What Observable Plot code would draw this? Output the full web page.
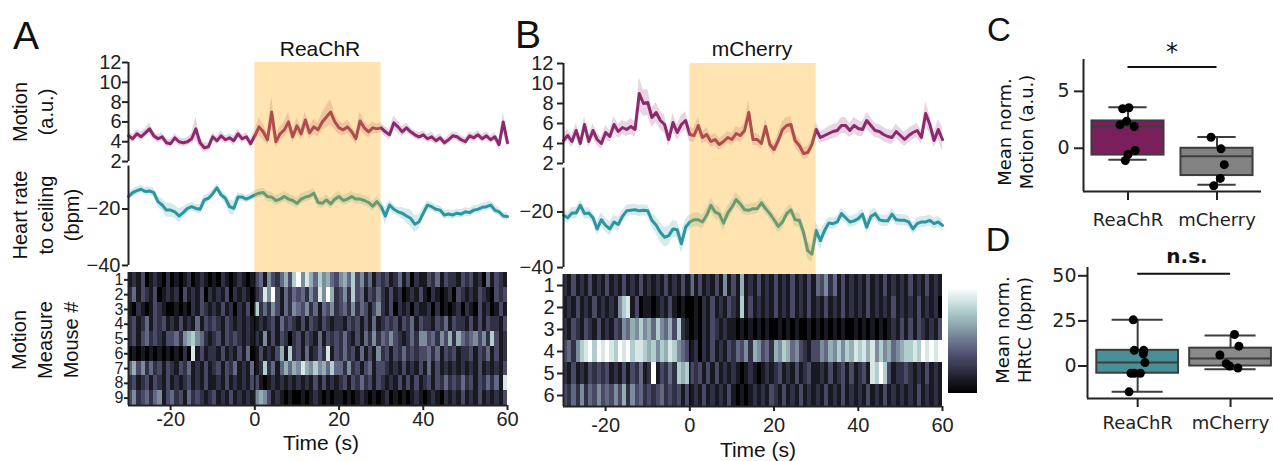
<!DOCTYPE html>
<html><head><meta charset="utf-8">
<script src="https://cdn.jsdelivr.net/npm/d3@7"></script>
<script src="https://cdn.jsdelivr.net/npm/@observablehq/plot@0.6"></script>
<style>
body{margin:0;background:#fff;overflow:hidden;}
#fig{position:relative;width:1273px;height:461px;overflow:hidden;background:#fff;color:#222;}
#fig svg{position:absolute;overflow:visible;max-width:none;background:transparent;}
.t{position:absolute;transform:translate(-50%,-50%);line-height:1;white-space:nowrap;color:#111;}
.r{position:absolute;transform:translate(-50%,-50%) rotate(-90deg);text-align:center;white-space:pre;color:#111;}
</style></head><body><div id="fig"></div>
<script>
// ---------------- data ----------------
const time = d3.range(-30, 61);          // 1 s grid, -30 .. 60 s
const stimWindow = [0, 30];

const aMotion = [4.6,4.3,4.8,4.5,4.9,5.3,4.6,4.3,4.5,3.9,
 3.8,4.4,4.0,3.9,4.0,4.3,5.3,3.9,3.4,3.5,
 4.5,4.1,4.6,4.2,4.4,4.1,4.8,4.3,4.5,3.8,
 4.6,5.5,5.0,4.2,7.0,4.0,4.8,5.2,6.0,4.5,
 5.6,4.8,6.2,4.9,5.5,5.2,6.0,6.5,7.0,6.0,
 5.4,5.2,5.5,5.0,4.3,6.1,5.4,5.0,5.4,5.3,
 5.4,5.0,4.7,5.9,5.5,5.0,5.4,5.0,4.7,4.5,
 4.7,4.3,4.5,4.1,4.4,3.9,4.2,4.6,4.5,4.2,
 4.0,4.6,4.4,4.7,4.3,4.6,4.2,4.5,3.7,6.0,
 3.9];
const aMotionErr = [0.4,0.4,0.4,0.5,0.4,0.6,0.4,0.4,0.4,0.4,
 0.4,0.4,0.4,0.4,0.4,0.5,1.2,0.5,0.5,0.4,
 0.4,0.4,0.5,0.4,0.4,0.5,0.5,0.4,0.4,0.5,
 0.5,0.9,0.8,0.6,1.6,0.6,0.7,0.8,1.0,0.6,
 0.8,0.6,0.9,0.6,0.8,0.7,0.9,1.1,1.3,0.8,
 0.7,0.6,0.7,0.6,0.6,0.9,0.7,0.6,0.6,0.5,
 0.5,0.5,0.5,0.7,0.6,0.5,0.5,0.4,0.4,0.4,
 0.4,0.4,0.5,0.4,0.4,0.4,0.4,0.4,0.4,0.4,
 0.4,0.4,0.4,0.4,0.4,0.4,0.4,0.4,0.5,1.0,
 0.5];
const aHR = [-15.6,-14.2,-13.5,-13.0,-13.8,-13.6,-14.2,-17.4,-18.6,-20.4,
 -20.4,-21.0,-22.5,-21.3,-19.8,-19.2,-19.8,-20.1,-16.8,-16.2,
 -14.6,-12.5,-15.0,-16.2,-19.2,-19.8,-15.8,-15.8,-16.5,-15.8,
 -15.0,-14.4,-14.2,-15.6,-15.8,-17.0,-16.5,-15.6,-16.5,-17.0,
 -18.0,-16.5,-15.8,-15.4,-14.4,-17.7,-18.0,-16.8,-18.2,-16.5,
 -15.6,-17.0,-16.5,-15.6,-16.5,-16.5,-17.0,-17.7,-19.0,-17.4,
 -19.2,-22.5,-18.6,-20.1,-21.0,-21.5,-22.5,-23.3,-25.4,-24.5,
 -21.5,-18.6,-19.2,-20.1,-20.4,-22.1,-21.8,-22.1,-21.5,-21.8,
 -21.0,-21.3,-20.4,-20.1,-19.4,-19.2,-18.6,-20.4,-21.0,-22.5,
 -22.7];
const aHRErr = [1.3,1.3,1.3,1.3,1.3,1.3,1.5,2.0,2.2,2.5,
 2.5,2.2,2.5,2.0,1.5,1.5,1.5,1.8,1.5,1.5,
 1.5,1.3,1.5,1.8,2.5,2.5,1.5,1.3,1.3,1.3,
 1.5,1.5,1.5,1.8,1.8,1.8,1.8,1.8,1.8,1.8,
 1.8,1.8,1.8,1.8,1.8,1.8,1.8,1.8,1.8,1.8,
 1.8,1.8,1.8,1.8,1.8,1.8,1.8,1.8,1.8,1.8,
 2.0,3.0,2.0,1.5,1.5,2.0,2.5,3.0,3.0,2.5,
 2.0,1.5,1.5,1.5,1.5,1.5,1.5,1.5,1.5,1.5,
 1.5,1.5,1.5,1.5,1.5,1.5,1.5,1.5,1.5,1.3,
 1.3];

const bMotion = [4.3,4.8,4.2,5.3,4.0,5.9,4.2,5.3,4.4,4.0,
 5.1,4.7,5.9,5.2,5.6,5.4,5.7,5.4,9.0,8.0,
 8.1,6.6,7.1,6.3,5.9,4.4,6.1,5.1,5.9,6.3,
 4.9,4.8,5.8,4.6,4.9,4.2,4.4,3.9,4.2,4.6,
 4.4,5.0,4.8,5.3,7.1,4.4,4.4,4.0,5.7,3.9,
 3.4,4.3,5.4,5.8,5.9,4.3,3.8,3.0,3.1,3.9,
 5.4,4.6,4.8,5.0,5.2,5.3,5.8,5.8,5.3,5.8,
 5.5,5.4,6.3,5.8,5.3,5.2,4.9,4.7,4.6,5.2,
 4.8,4.4,4.8,5.1,5.3,4.6,7.0,5.9,4.3,5.4,
 4.4];
const bMotionErr = [0.6,0.6,0.6,0.7,0.6,0.8,0.6,0.7,0.6,0.6,
 0.7,0.6,0.8,0.7,0.7,0.7,0.8,0.8,1.6,1.3,
 1.3,1.0,1.0,0.9,0.9,0.7,0.9,0.8,0.9,0.9,
 0.7,0.7,0.8,0.6,0.7,0.6,0.6,0.6,0.6,0.6,
 0.6,0.7,0.7,0.7,1.2,0.6,0.6,0.6,0.8,0.6,
 0.6,0.7,0.8,0.8,0.8,0.7,0.7,0.6,0.6,0.6,
 0.7,0.6,0.6,0.7,0.7,0.7,0.8,0.8,0.7,0.8,
 0.8,0.7,0.8,0.8,0.7,0.7,0.7,0.7,0.7,0.7,
 0.7,0.7,0.7,0.7,0.7,0.7,1.2,0.9,0.7,1.0,
 1.2];
const bHR = [-21.2,-22.1,-20.4,-20.4,-17.6,-20.6,-20.4,-22.1,-26.1,-22.8,
 -24.8,-26.1,-23.6,-24.5,-21.6,-19.6,-19.4,-19.2,-19.6,-19.4,
 -19.6,-23.0,-24.8,-27.3,-29.1,-28.5,-26.1,-26.4,-31.5,-25.5,
 -23.6,-22.8,-22.8,-23.6,-21.2,-17.6,-20.0,-20.8,-24.0,-20.4,
 -18.2,-15.5,-17.2,-19.2,-19.4,-18.8,-18.8,-16.7,-18.8,-20.6,
 -22.8,-25.2,-23.6,-20.6,-19.2,-22.8,-23.0,-27.3,-33.9,-35.2,
 -26.7,-30.3,-26.7,-24.0,-24.2,-23.6,-20.6,-22.1,-23.6,-23.2,
 -22.4,-20.8,-25.5,-21.6,-20.6,-22.8,-23.2,-23.2,-20.8,-22.8,
 -23.0,-23.0,-23.6,-26.1,-24.2,-23.6,-23.6,-23.0,-24.2,-23.6,
 -24.8];
const bHRErr = [2.0,2.0,2.0,2.0,2.0,2.0,2.0,2.0,2.5,2.5,
 2.5,2.5,2.5,2.5,2.0,2.0,2.0,2.0,2.0,2.0,
 2.0,2.5,3.0,3.5,3.5,3.5,3.0,3.0,3.5,3.0,
 2.5,2.5,2.5,2.5,2.5,2.5,2.5,2.5,3.0,2.5,
 2.5,2.5,2.5,2.0,2.0,2.0,2.0,2.0,2.0,2.0,
 2.0,2.5,2.5,2.0,2.0,2.5,2.5,3.0,3.0,3.0,
 3.0,3.5,2.5,2.0,2.0,2.0,2.0,2.0,2.0,2.0,
 2.0,2.0,2.5,2.0,2.0,2.0,2.0,2.0,2.0,2.0,
 2.0,2.0,2.0,2.0,2.0,2.0,2.0,2.0,2.0,2.0,
 2.0];

// per-mouse motion heatmaps: one digit (0-9 intensity) per second, -30 .. 60 s
const aHeatRows = [
 "1213012102 0101201210 1021012101 3415324637 9586475643 5647352413 2312413021 1324132213 2312041321",
 "2413213012 1203121302 1213021210 2385931424 3425385962 3527341324 2131201213 1021012032 1213210323",
 "1021013210 0101021321 2131202130 7242531425 4352414352 3425243135 2130212021 1202010120 2103120131",
 "2312413231 2131214132 3213212121 1212314232 1313213212 2132313141 2323132413 2213241322 1313132213",
 "2313423213 3425675421 2313232121 2151313202 3132141323 2421314252 4353212425 5342536264 3453527312",
 "0101010101 0102081312 2131213140 1312136172 3141242813 2423141315 2313242323 3424132312 2313241312",
 "4635242313 2132412131 2313241214 1272414646 5865756474 4252313413 3212131213 1413121212 1213121213",
 "2312313213 1212312131 1213121213 3101212121 2121313121 2313242313 2121313131 2313242324 2313242418",
 "3523424513 4231423212 3121312121 5653121010 0101210101 1010121010 1201010121 0121021213 1213121213"
];
const bHeatRows = [
 "2131213121 3121312131 2121312131 4131213151 3161213121 3121312131 4352413121 2131213121 2131213121",
 "1213121312 1215781301 1012131010 0102131213 2171312121 3121312131 2131213121 2131212131 2121312120",
 "2132132131 2132546575 6475463721 0102132121 1010101010 0101010010 1010101001 0101010121 3131321213",
 "3425789798 9879897887 6757687543 1202131213 2435265342 6576453213 3546575768 7868575645 6778798989",
 "2131213232 3121313241 2913242767 3231313121 2101210121 2312131231 1213123131 2318797312 2321213121",
 "3242524353 4353625342 3234232313 1213121213 1010121213 2131213121 2131213121 2131213121 2121312121"
];

// panel C / D summaries
const groups = ["ReaChR", "mCherry"];
const cLo = [-1.0, -3.2], cQ1 = [-0.6, -2.4], cMed = [1.93, -0.7], cQ3 = [2.4, 0.0], cHi = [3.6, 1.0];
const cReaChR = [3.56, 3.47, 2.38, 2.06, 1.91, -0.2, -0.55, -1.08];
const cReaChRJitter = [0.01, -0.06, -0.015, -0.09, 0.07, 0.08, 0.0, -0.03];
const cMCherry = [0.97, -0.05, -1.44, -2.65, -3.3];
const cMCherryJitter = [-0.067, 0.045, 0.082, 0.037, -0.037];
const cSig = 7.15;

const dLo = [-14.3, -1.8], dQ1 = [-4.0, 0.0], dMed = [1.9, 4.1], dQ3 = [8.7, 9.9], dHi = [25.6, 16.9];
const dReaChR = [25.6, 8.7, 8.7, 6.8, 1.9, -4.0, -4.0, -4.0, -14.3];
const dReaChRJitter = [-0.047, -0.036, 0.065, 0.061, 0.079, -0.072, -0.036, 0.029, -0.093];
const dMCherry = [17.5, 11.0, 6.1, 1.3, 0.0, -1.1];
const dMCherryJitter = [0.043, 0.09, -0.115, -0.047, -0.011, 0.079];
const dSig = 51.1;

// ---------------- helpers ----------------
const FONT_A = "'Liberation Sans', Arial, Helvetica, sans-serif";
const FONT_C = "'DejaVu Sans', sans-serif";
const MOTION = "#8c286e", HEART = "#2b96a0";
const bone = {type: "linear", domain: [0, 3.29, 6.71, 9], range: ["#000000", "#515171", "#a6c6c6", "#ffffff"]};
const fig = document.getElementById("fig");

function place(svg, f, ml, mt) {
  svg.style.position = "absolute";
  svg.style.left = (f.x - ml) + "px";
  svg.style.top = (f.y - mt) + "px";
  fig.appendChild(svg);
}
function label(text, cx, cy, size, family, extra) {
  const d = document.createElement("div");
  d.className = "t"; d.textContent = text;
  Object.assign(d.style, {left: cx + "px", top: cy + "px", fontSize: size + "px", fontFamily: family}, extra || {});
  fig.appendChild(d);
}
function vlabel(lines, cx, cy, size, family, lh) {
  const d = document.createElement("div");
  d.className = "r"; d.textContent = lines.join("\n");
  Object.assign(d.style, {left: cx + "px", top: cy + "px", fontSize: size + "px", fontFamily: family, lineHeight: lh + "px"});
  fig.appendChild(d);
}
function series(vals, errs) {
  return time.map((t, i) => ({t, v: vals[i], lo: vals[i] - errs[i], hi: vals[i] + errs[i]}));
}
const stim = [{x1: stimWindow[0], x2: stimWindow[1]}];
const styleA = {fontFamily: FONT_A, fontSize: "20px", color: "#222", background: "transparent", overflow: "visible"};

function tracePlot(f, data, color, yDomain, ticks, spine, tickPadding) {
  const ml = 80, mr = 4, mt = 4, mb = 4;
  const svg = Plot.plot({
    width: f.w + ml + mr, height: f.h + mt + mb,
    marginLeft: ml, marginRight: mr, marginTop: mt, marginBottom: mb,
    style: styleA,
    x: {domain: [-30, 60], axis: null},
    y: {domain: yDomain, axis: null},
    marks: [
      Plot.areaY(data, {x: "t", y1: "lo", y2: "hi", fill: color, fillOpacity: 0.2}),
      Plot.lineY(data, {x: "t", y: "v", stroke: color, strokeWidth: 3, strokeLinejoin: "round"}),
      Plot.rect(stim, {x1: "x1", x2: "x2", y1: yDomain[0], y2: yDomain[1], fill: "orange", fillOpacity: 0.3}),
      Plot.ruleX([-30], {y1: spine[0], y2: spine[1], stroke: "#222", strokeWidth: 2}),
      Plot.axisY({ticks, tickSize: 6, tickPadding, strokeWidth: 2, label: null, fontSize: 20})
    ]
  });
  place(svg, f, ml, mt);
}

function heatPlot(f, rows, yTickSize, yTickPad, xTickPad, rowFont) {
  const cells = [];
  rows.forEach((s, r) => {
    const str = s.replace(/ /g, "");
    const dt = 90 / str.length;
    for (let i = 0; i < str.length; i++) cells.push({t0: -30 + i * dt, t1: -30 + (i + 1) * dt, row: r + 1, v: +str[i]});
  });
  const n = rows.length;
  const ml = 60, mr = 4, mt = 4, mb = 40;
  const svg = Plot.plot({
    width: f.w + ml + mr, height: f.h + mt + mb,
    marginLeft: ml, marginRight: mr, marginTop: mt, marginBottom: mb,
    style: styleA,
    x: {domain: [-30, 60], axis: null},
    y: {domain: [0.5, n + 0.5], reverse: true, axis: null},
    color: bone,
    marks: [
      Plot.rect(cells, {x1: "t0", x2: "t1", y1: d => d.row - 0.5, y2: d => d.row + 0.5, fill: "v", shapeRendering: "crispEdges"}),
      Plot.ruleX([0], {stroke: "#000", strokeWidth: 1.2}),
      Plot.ruleX([-30], {stroke: "#222", strokeWidth: 2}),
      Plot.ruleY([n + 0.5], {stroke: "#222", strokeWidth: 2}),
      Plot.axisY({ticks: d3.range(1, n + 1), tickFormat: d => String(d), tickSize: yTickSize, tickPadding: yTickPad, strokeWidth: 2, label: null, fontSize: rowFont}),
      Plot.axisX({ticks: [-20, 0, 20, 40, 60], tickFormat: d => String(d), tickSize: 5, tickPadding: xTickPad, strokeWidth: 2, label: null, fontSize: 20})
    ]
  });
  place(svg, f, ml, mt);
}

function colorbar(f) {
  const steps = d3.range(0, 9, 0.09);
  const svg = Plot.plot({
    width: f.w, height: f.h, margin: 0,
    style: {background: "transparent"},
    x: {domain: [0, 1], axis: null},
    y: {domain: [0, 9], axis: null},
    color: bone,
    marks: [Plot.rect(steps, {x1: 0, x2: 1, y1: d => d, y2: d => d + 0.09, fill: d => d, shapeRendering: "crispEdges"})]
  });
  place(svg, f, 0, 0);
}

function boxPlot(f, xDomain, yDomain, yTicks, lo, q1, med, q3, hi, fills, pts, boxW, capW, sigY, xTickPad, yTickPad) {
  const idx = [0, 1];
  const edge = "#3d3d3d";
  const ml = 60, mr = 4, mt = 4, mb = 50;
  const svg = Plot.plot({
    width: f.w + ml + mr, height: f.h + mt + mb,
    marginLeft: ml, marginRight: mr, marginTop: mt, marginBottom: mb,
    style: {fontFamily: FONT_C, fontSize: "18px", color: "#222", background: "transparent", overflow: "visible"},
    x: {domain: xDomain, axis: null},
    y: {domain: yDomain, axis: null},
    color: {type: "identity"},
    marks: [
      Plot.ruleX(idx, {x: i => i, y1: i => lo[i], y2: i => q1[i], stroke: edge, strokeWidth: 2}),
      Plot.ruleX(idx, {x: i => i, y1: i => q3[i], y2: i => hi[i], stroke: edge, strokeWidth: 2}),
      Plot.ruleY(idx, {y: i => lo[i], x1: i => i - capW / 2, x2: i => i + capW / 2, stroke: edge, strokeWidth: 2}),
      Plot.ruleY(idx, {y: i => hi[i], x1: i => i - capW / 2, x2: i => i + capW / 2, stroke: edge, strokeWidth: 2}),
      Plot.rect(idx, {x1: i => i - boxW / 2, x2: i => i + boxW / 2, y1: i => q1[i], y2: i => q3[i], fill: i => fills[i], stroke: edge, strokeWidth: 2}),
      Plot.ruleY(idx, {y: i => med[i], x1: i => i - boxW / 2, x2: i => i + boxW / 2, stroke: edge, strokeWidth: 2}),
      Plot.dot(pts, {x: d => d.g + d.j, y: "v", r: 4.5, fill: "#000", stroke: "none"}),
      Plot.ruleY([sigY], {x1: 0, x2: 1, stroke: "#111", strokeWidth: 2}),
      Plot.ruleX([xDomain[0]], {stroke: "#222", strokeWidth: 2}),
      Plot.ruleY([yDomain[0]], {stroke: "#222", strokeWidth: 2}),
      Plot.axisY({ticks: yTicks, tickFormat: d => String(d), tickSize: 9, tickPadding: yTickPad, strokeWidth: 2, label: null, fontSize: 19}),
      Plot.axisX({ticks: [0, 1], tickFormat: i => groups[i], tickSize: 9, tickPadding: xTickPad, strokeWidth: 2, label: null, fontSize: 18})
    ]
  });
  place(svg, f, ml, mt);
}
function points(vals0, jit0, vals1, jit1) {
  return vals0.map((v, i) => ({g: 0, j: jit0[i], v})).concat(vals1.map((v, i) => ({g: 1, j: jit1[i], v})));
}

// ---------------- panel A ----------------
tracePlot({x: 128, y: 62, w: 379, h: 103}, series(aMotion, aMotionErr), MOTION, [1.6, 12], [2, 4, 6, 8, 10, 12], [2, 12], 1);
tracePlot({x: 128, y: 165, w: 379, h: 107}, series(aHR, aHRErr), HEART, [-42.5, -4.6], [-40, -20], [-40, -4.8], 2);
heatPlot({x: 128, y: 272, w: 379, h: 133}, aHeatRows, 4, 1, 1, 16);

// ---------------- panel B ----------------
tracePlot({x: 563, y: 63, w: 379, h: 104}, series(bMotion, bMotionErr), MOTION, [1.6, 12], [2, 4, 6, 8, 10, 12], [2, 12], 4);
tracePlot({x: 563, y: 167, w: 379, h: 107}, series(bHR, bHRErr), HEART, [-42.5, -4], [-40, -20], [-40, -4.2], 4);
heatPlot({x: 563, y: 274, w: 379, h: 132}, bHeatRows, 6, 3, 6, 20);
colorbar({x: 948, y: 288, w: 29, h: 105});

// ---------------- panel C / D ----------------
boxPlot({x: 1083, y: 59, w: 178, h: 132}, [-0.5, 1.5], [-3.8, 7.8], [0, 5],
  cLo, cQ1, cMed, cQ3, cHi, ["#7a1e5c", "#828282"],
  points(cReaChR, cReaChRJitter, cMCherry, cMCherryJitter), 0.81, 0.43, cSig, 13, 5);
boxPlot({x: 1087, y: 267, w: 189.5, h: 131}, [-0.54, 1.5], [-18.0, 54.6], [0, 25, 50],
  dLo, dQ1, dMed, dQ3, dHi, ["#489098", "#8a8a8a"],
  points(dReaChR, dReaChRJitter, dMCherry, dMCherryJitter), 0.88, 0.55, dSig, 9, 2);

// ---------------- text ----------------
label("A", 26, 35, 39, FONT_A);
label("B", 528, 34, 39, FONT_A);
label("C", 999, 29, 33, FONT_A);
label("D", 998, 239, 34, FONT_A);
label("ReaChR", 320, 48, 21, FONT_A);
label("mCherry", 752, 48, 21, FONT_A);
label("Time (s)", 321, 442, 21, FONT_A);
label("Time (s)", 758, 449, 21, FONT_A);
vlabel(["Motion", "(a.u.)"], 33, 112, 20, FONT_A, 26);
vlabel(["Heart rate", "to ceiling", "(bpm)"], 46, 215, 20, FONT_A, 26);
vlabel(["Motion", "Measure", "Mouse #"], 45, 340, 20, FONT_A, 26);
vlabel(["Mean norm.", "Motion (a.u.)"], 1016, 132, 18, FONT_C, 22);
vlabel(["Mean norm.", "HRtC (bpm)"], 1014, 330, 18, FONT_C, 22);
label("*", 1172, 52, 24, FONT_C);
label("n.s.", 1187, 256, 20, FONT_C, {fontWeight: "bold"});
</script></body></html>
